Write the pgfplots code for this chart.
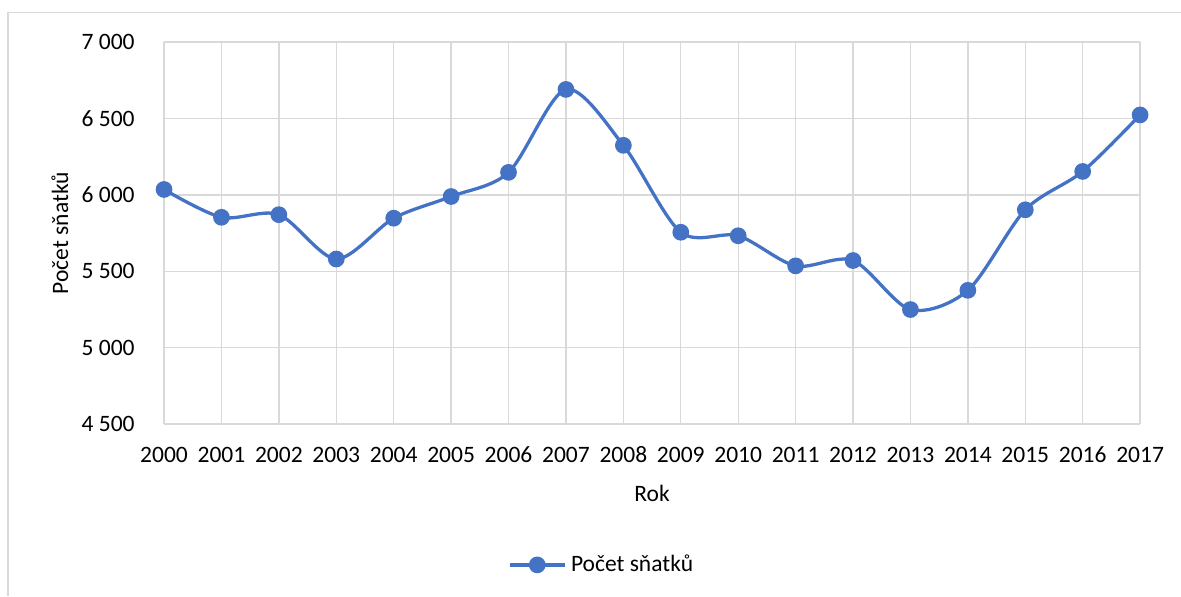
\documentclass[border=0pt]{standalone}
\usepackage{fontspec}
\setmainfont{Carlito}
\usepackage{pgfplots}
\pgfplotsset{compat=1.18}
\definecolor{serblue}{HTML}{4472C4}
\definecolor{gridgray}{HTML}{D9D9D9}

\begin{document}
\begin{tikzpicture}
\path[use as bounding box] (0,0) rectangle (502.5pt,253.6pt);
\draw[gridgray, line width=0.5pt] (3.4pt,0) -- (3.4pt,248.3pt) -- (502.5pt,248.3pt);
\begin{axis}[
    at={(69.8pt,73.2pt)}, anchor=south west,
    width=415.3pt, height=162.5pt,
    scale only axis,
    xmin=2000, xmax=2017,
    ymin=4500, ymax=7000,
    xtick={2000,2001,...,2017},
    ytick={4500,5000,...,7000},
    grid=major,
    grid style={gridgray, line width=0.6pt},
    axis line style={draw=none},
    major tick length=0pt,
    /pgf/number format/.cd, 1000 sep={\ }, assume math mode=true, /pgfplots/.cd,
    xticklabel style={/pgf/number format/1000 sep={}, yshift=-6.5pt, text height=6.4pt, text depth=0pt},
    yticklabel style={xshift=-9pt},
    tick label style={font=\fontsize{10}{12}\selectfont},
    xlabel={Rok},
    ylabel={Počet sňatků},
    xlabel style={at={(rel axis cs:0.5,-0.1806)}, anchor=center, font=\fontsize{10}{12}\selectfont},
    ylabel style={at={(rel axis cs:-0.1066,0.5)}, anchor=center, font=\fontsize{10}{12}\selectfont},
    legend style={at={(rel axis cs:0.4498,-0.369)}, anchor=center, draw=none,
        font=\fontsize{10}{12}\selectfont},
    legend image code/.code={\draw[mark repeat=2, mark phase=2] plot coordinates {(0cm,0cm) (0.41cm,0cm) (0.82cm,0cm)};},
]
\addplot[serblue, line width=1.4pt, smooth, tension=0.5, mark=*, mark size=2.85pt,
    mark options={fill=serblue, draw=serblue}] coordinates {
    (2000,6035) (2001,5853) (2002,5870) (2003,5580) (2004,5847) (2005,5989)
    (2006,6147) (2007,6690) (2008,6324) (2009,5755) (2010,5732) (2011,5535)
    (2012,5570) (2013,5249) (2014,5375) (2015,5902) (2016,6153) (2017,6523)
};
\legend{Počet sňatků}
\end{axis}
\end{tikzpicture}
\end{document}
